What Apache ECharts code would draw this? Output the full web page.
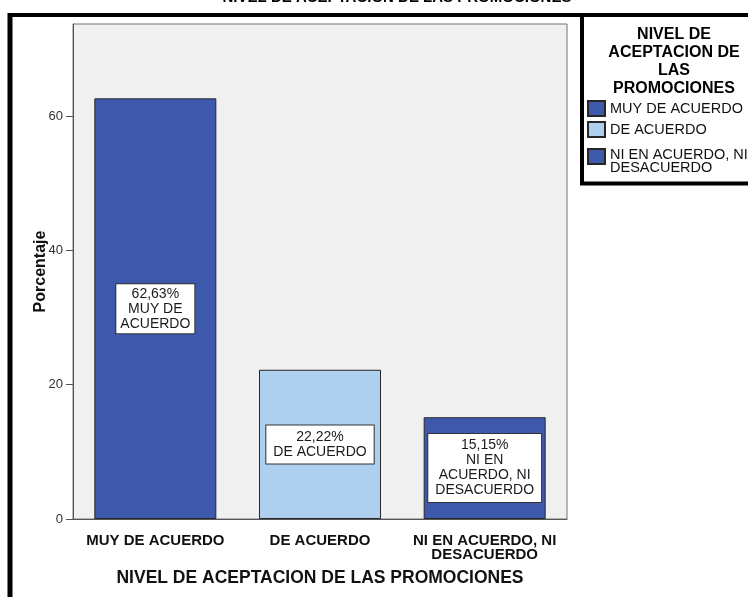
<!DOCTYPE html>
<html>
<head>
<meta charset="utf-8">
<script src="https://cdn.jsdelivr.net/npm/echarts@6/dist/echarts.min.js"></script>
<style>
  html, body { margin: 0; padding: 0; background: #ffffff; }
  #chart { width: 748px; height: 597px; }
</style>
</head>
<body>
<div id="chart"></div>
<script>
// Acceptance level categories and their share of responses (%)
const categories = ['MUY DE ACUERDO', 'DE ACUERDO', 'NI EN ACUERDO, NI\nDESACUERDO'];
const percentages = [62.63, 22.22, 15.15];
// Text shown in the boxes inside each bar
const barLabels = ['MUY DE\nACUERDO', 'DE ACUERDO', 'NI EN\nACUERDO, NI\nDESACUERDO'];
// Y axis ticks
const yTicks = [0, 20, 40, 60];

const colors = ['#3e58ac', '#aecfee', '#3e58ac'];
const font = "'Liberation Sans', Arial, sans-serif";

const fmtPct = v => v.toFixed(2).replace('.', ',') + '%';

const chart = echarts.init(document.getElementById('chart'), null, { renderer: 'canvas' });

const series = categories.map((name, i) => ({
  name: name,
  type: 'bar',
  stack: 'all',
  barWidth: 122,
  data: categories.map((c, j) => (j === i ? percentages[i] : '-')),
  itemStyle: { color: colors[i], borderColor: '#262626', borderWidth: 1 },
  label: {
    show: true,
    position: 'inside',
    formatter: () => fmtPct(percentages[i]) + '\n' + barLabels[i],
    fontFamily: font,
    fontSize: 14,
    lineHeight: 15,
    color: '#1a1a1a',
    backgroundColor: '#ffffff',
    borderColor: '#333333',
    borderWidth: 1,
    padding: i === 0 ? [2, 4] : [4, 7],
    align: 'center'
  },
  emphasis: { disabled: true }
}));

const legendText = { fontFamily: font, fontSize: 14.5, lineHeight: 13, color: '#111' };
const legendBase = {
  orient: 'vertical',
  left: 587,
  padding: 0,
  itemWidth: 17,
  itemHeight: 15,
  itemGap: 4,
  icon: 'rect',
  selectedMode: false,
  textStyle: legendText
};

chart.setOption({
  animation: false,
  title: {
    text: 'NIVEL DE ACEPTACION DE LAS PROMOCIONES',
    left: 392,
    top: -15,
    textAlign: 'center',
    textStyle: { fontFamily: font, fontWeight: 'bold', fontSize: 15, color: '#000' }
  },
  legend: [
    Object.assign({}, legendBase, { top: 100, data: categories.slice(0, 2) }),
    // two-line entry: a small spacer line lowers its text against the swatch
    Object.assign({}, legendBase, {
      top: 138.5,
      data: categories.slice(2),
      formatter: name => '{s| }\n' + name.split('\n').map(l => '{t|' + l + '}').join('\n'),
      textStyle: Object.assign({}, legendText, {
        rich: {
          s: { fontSize: 1, height: 10, lineHeight: 10 },
          t: Object.assign({}, legendText)
        }
      })
    })
  ],
  grid: {
    left: 73, right: 181, top: 24, bottom: 78,
    show: true,
    backgroundColor: '#f0f0f0',
    borderColor: '#737373',
    borderWidth: 1
  },
  xAxis: {
    type: 'category',
    data: categories,
    name: 'NIVEL DE ACEPTACION DE LAS PROMOCIONES',
    nameLocation: 'middle',
    nameGap: 50,
    nameMoveOverlap: false,
    nameTextStyle: { fontFamily: font, fontWeight: 'bold', fontSize: 17.5, color: '#111' },
    axisLine: { lineStyle: { color: '#555', width: 1 } },
    axisTick: { alignWithLabel: true, length: 7, lineStyle: { color: '#555' } },
    axisLabel: {
      margin: 15,
      interval: 0,
      fontFamily: font,
      fontWeight: 'bold',
      fontSize: 15,
      lineHeight: 14,
      color: '#111'
    }
  },
  yAxis: {
    type: 'value',
    min: 0,
    max: 73.7,
    interval: 20,
    name: 'Porcentaje',
    nameLocation: 'middle',
    nameGap: 24,
    nameMoveOverlap: false,
    nameTextStyle: { fontFamily: font, fontWeight: 'bold', fontSize: 16, color: '#111' },
    axisLine: { show: true, lineStyle: { color: '#555', width: 1 } },
    axisTick: { show: true, length: 7, customValues: yTicks, lineStyle: { color: '#555' } },
    axisLabel: { margin: 10, customValues: yTicks, fontFamily: font, fontSize: 13, color: '#333' },
    splitLine: { show: false }
  },
  graphic: [
    // outer frame (top and left edges)
    { type: 'line', shape: { x1: 8, y1: 15, x2: 760, y2: 15 }, style: { stroke: '#000', lineWidth: 4 } },
    { type: 'line', shape: { x1: 10, y1: 13, x2: 10, y2: 610 }, style: { stroke: '#000', lineWidth: 5 } },
    // legend frame
    { type: 'line', shape: { x1: 582, y1: 13, x2: 582, y2: 185 }, style: { stroke: '#000', lineWidth: 4 } },
    { type: 'line', shape: { x1: 580, y1: 183.5, x2: 760, y2: 183.5 }, style: { stroke: '#000', lineWidth: 4 } },
    // legend title
    {
      type: 'text', x: 674, y: 26,
      style: {
        text: 'NIVEL DE\nACEPTACION DE\nLAS\nPROMOCIONES',
        align: 'center',
        verticalAlign: 'top',
        fontFamily: font, fontWeight: 'bold', fontSize: 16, lineHeight: 18, fill: '#000'
      }
    }
  ],
  series: series
});
</script>
</body>
</html>
